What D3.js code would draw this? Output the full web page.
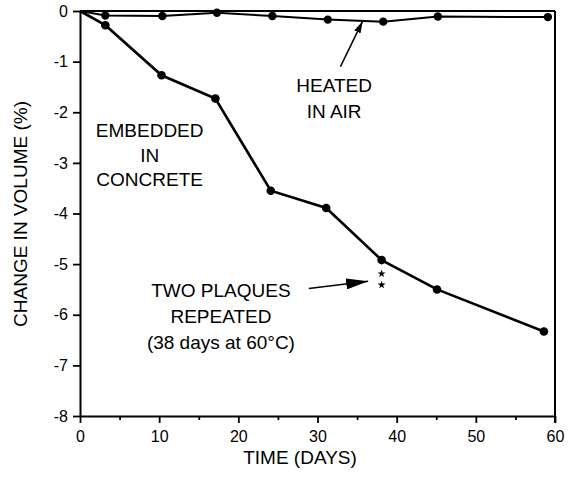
<!DOCTYPE html>
<html>
<head>
<meta charset="utf-8">
<script src="https://cdn.jsdelivr.net/npm/d3@7"></script>
<style>
  body { margin: 0; background: #fff; }
  svg text { font-family: "Liberation Sans", Arial, Helvetica, sans-serif; fill: #000; }
</style>
</head>
<body>
<script>
// days and % change in volume
var embeddedDays = [0, 3.2, 10.3, 17.1, 24.1, 31.1, 38.1, 45.1, 58.6];
var embeddedVals = [0, -0.28, -1.27, -1.73, -3.55, -3.89, -4.92, -5.5, -6.33];
var heatedDays = [0, 3.2, 10.4, 17.3, 24.3, 31.3, 38.3, 45.2, 59.1];
var heatedVals = [0, -0.09, -0.1, -0.035, -0.1, -0.17, -0.21, -0.11, -0.12];
// repeated plaques (asterisks)
var repeatDays = [38.1, 38.1];
var repeatVals = [-5.19, -5.41];
var xTicks = [0, 10, 20, 30, 40, 50, 60];
var xMinor = [5, 15, 25, 35, 45, 55];
var yTicks = [0, -1, -2, -3, -4, -5, -6, -7, -8];

function draw() {
    var W = 568, H = 489;
    var margin = {top: 11, left: 80, right: 13, bottom: 73};
    var w = W - margin.left - margin.right, h = H - margin.top - margin.bottom;

    var svg = d3.select("body").append("svg")
        .attr("width", W)
        .attr("height", H);

    var defs = svg.append("defs");
    defs.append("marker").attr("id", "headBig")
        .attr("viewBox", "0 0 20 10").attr("refX", 20).attr("refY", 5)
        .attr("markerUnits", "userSpaceOnUse")
        .attr("markerWidth", 22).attr("markerHeight", 11).attr("orient", "auto")
        .append("path").attr("d", "M0,0 L20,5 L0,10 Z").attr("fill", "#000");
    defs.append("marker").attr("id", "headSmall")
        .attr("viewBox", "0 0 12 7").attr("refX", 12).attr("refY", 3.5)
        .attr("markerUnits", "userSpaceOnUse")
        .attr("markerWidth", 12).attr("markerHeight", 7).attr("orient", "auto")
        .append("path").attr("d", "M0,0 L12,3.5 L0,7 Z").attr("fill", "#000");

    var g = svg.append("g").attr("transform", "translate(" + margin.left + "," + margin.top + ")");

    var x = d3.scaleLinear().domain([0, 60]).range([0, w]);
    var y = d3.scaleLinear().domain([-8, 0]).range([h, 0]);

    // axes
    var xAxis = g.append("g").attr("transform", "translate(0," + h + ")")
        .call(d3.axisBottom(x).tickValues(xTicks).tickSize(7).tickSizeOuter(0).tickPadding(5));
    g.append("g").attr("transform", "translate(0," + h + ")")
        .call(d3.axisBottom(x).tickValues(xMinor).tickSize(4).tickFormat(""))
        .select(".domain").remove();
    var yAxis = g.append("g")
        .call(d3.axisLeft(y).tickValues(yTicks).tickSize(7).tickSizeOuter(0).tickPadding(5)
            .tickFormat(function (d) { return String(d); }));

    g.selectAll(".tick line").attr("stroke", "#000").attr("stroke-width", 1.8);
    g.selectAll(".domain").attr("stroke", "#000").attr("stroke-width", 2);
    g.selectAll(".tick text").style("font-size", "16px").attr("fill", "#000");
    xAxis.selectAll(".tick text").attr("dy", "0.85em");

    // top and right borders
    g.append("line").attr("x1", 0).attr("x2", w).attr("y1", 0).attr("y2", 0)
        .attr("stroke", "#000").attr("stroke-width", 2);
    g.append("line").attr("x1", w).attr("x2", w).attr("y1", 0).attr("y2", h + 7)
        .attr("stroke", "#000").attr("stroke-width", 2);

    // lines
    var line = d3.line().x(function (d) { return x(d[0]); }).y(function (d) { return y(d[1]); });
    var embedded = d3.zip(embeddedDays, embeddedVals);
    var heated = d3.zip(heatedDays, heatedVals);

    g.append("path").datum(heated).attr("d", line)
        .attr("fill", "none").attr("stroke", "#000").attr("stroke-width", 2);
    g.append("path").datum(embedded).attr("d", line)
        .attr("fill", "none").attr("stroke", "#000").attr("stroke-width", 2.6);

    g.selectAll(".ph").data(heated.slice(1)).enter().append("circle")
        .attr("cx", function (d) { return x(d[0]); })
        .attr("cy", function (d) { return y(d[1]); })
        .attr("r", 4.2).attr("fill", "#000");
    g.selectAll(".pe").data(embedded.slice(1)).enter().append("circle")
        .attr("cx", function (d) { return x(d[0]); })
        .attr("cy", function (d) { return y(d[1]); })
        .attr("r", 4.3).attr("fill", "#000");

    // asterisks
    g.selectAll(".star").data(d3.zip(repeatDays, repeatVals)).enter().append("path")
        .attr("d", d3.symbol().type(d3.symbolStar).size(20))
        .attr("transform", function (d) { return "translate(" + x(d[0]) + "," + y(d[1]) + ")"; })
        .attr("fill", "#000");

    // annotations
    var label = function (cx, lines, base, step) {
        var t = g.append("text").attr("text-anchor", "middle").style("font-size", "19px");
        lines.forEach(function (s, i) {
            t.append("tspan").attr("x", cx).attr("y", base + i * step).text(s);
        });
    };
    label(x(8.8), ["EMBEDDED", "IN", "CONCRETE"], 126, 24.7);
    label(x(32.1), ["HEATED", "IN AIR"], 80.5, 26.5);
    label(x(17.8), ["TWO PLAQUES", "REPEATED", "(38 days at 60°C)"], 286, 26);

    g.append("line")
        .attr("x1", x(32.9)).attr("y1", y(-1.1))
        .attr("x2", x(35.7)).attr("y2", y(-0.2))
        .attr("stroke", "#000").attr("stroke-width", 1.5)
        .attr("marker-end", "url(#headSmall)");
    g.append("line")
        .attr("x1", x(28.9)).attr("y1", y(-5.48))
        .attr("x2", x(36.4)).attr("y2", y(-5.34))
        .attr("stroke", "#000").attr("stroke-width", 1.5)
        .attr("marker-end", "url(#headBig)");

    // axis titles
    svg.append("text").attr("x", 300).attr("y", 464).attr("text-anchor", "middle")
        .style("font-size", "19px").text("TIME (DAYS)");
    svg.append("text").attr("transform", "translate(27,214) rotate(-90)").attr("text-anchor", "middle")
        .style("font-size", "19px").text("CHANGE IN VOLUME (%)");
}
draw();
</script>
</body>
</html>
